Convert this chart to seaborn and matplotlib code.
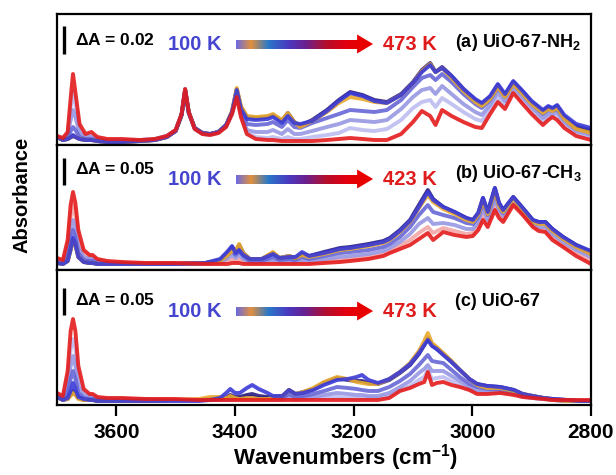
import numpy as np
import pandas as pd
import matplotlib
matplotlib.use("Agg")
import matplotlib.pyplot as plt
import seaborn as sns
from matplotlib.colors import LinearSegmentedColormap
from matplotlib.patches import Polygon

sns.set_theme(style="white")
plt.rcParams["font.family"] = ["Liberation Sans", "DejaVu Sans"]
plt.rcParams["font.weight"] = "bold"
plt.rcParams["text.color"] = "black"
plt.rcParams["xtick.color"] = "black"
plt.rcParams["mathtext.fontset"] = "custom"
plt.rcParams["mathtext.rm"] = "Liberation Sans:bold"
plt.rcParams["mathtext.bf"] = "Liberation Sans:bold"

# ---- data (absorbance, arbitrary units, baseline = 0) ----
wn_a = [3700, 3690, 3682, 3676, 3673, 3669, 3662, 3652, 3642, 3632,
        3615, 3590, 3560, 3535, 3515, 3500, 3490, 3484, 3478, 3468,
        3455, 3442, 3428, 3415, 3405, 3397, 3390, 3380, 3365, 3345,
        3336, 3321, 3311, 3300, 3290, 3270, 3245, 3225, 3206, 3185,
        3165, 3144, 3120, 3100, 3085, 3071, 3062, 3051, 3035, 3015,
        2995, 2984, 2970, 2957, 2945, 2931, 2915, 2900, 2881, 2872,
        2865, 2857, 2845, 2825, 2800]
a_100 = [5, 2, 3, 5, 7, 5, 3, 2, 2, 1,
         0, 0, 1, 2, 5, 11, 27, 51, 29, 14,
         9, 8, 10, 17, 30, 52, 33, 23, 22, 23,
         25, 19, 26, 19, 18, 21, 31, 41, 49, 46,
         41, 39, 47, 59, 70, 77, 70, 74, 66, 53,
         43, 39, 46, 58, 48, 61, 51, 41, 32, 36,
         34, 37, 27, 18, 14]
a_150 = [5, 2, 3, 5, 6, 5, 3, 2, 2, 1,
         0, 0, 1, 2, 5, 11, 27, 52, 30, 14,
         9, 8, 10, 17, 31, 54, 36, 26, 25, 26,
         28, 22, 29, 20, 15, 21, 30, 39, 45, 43,
         40, 39, 47, 59, 71, 78, 70, 74, 64, 51,
         40, 36, 43, 55, 45, 58, 48, 38, 29, 33,
         31, 34, 23, 13, 9]
a_200 = [5, 2, 3, 5, 6, 5, 3, 2, 2, 1,
         0, 0, 1, 2, 5, 11, 27, 52, 30, 14,
         9, 8, 10, 17, 30, 53, 35, 25, 24, 25,
         27, 21, 29, 20, 16, 22, 32, 42, 50, 47,
         42, 40, 48, 60, 72, 79, 70, 75, 66, 53,
         42, 38, 45, 57, 47, 60, 50, 40, 31, 35,
         33, 36, 25, 16, 12]
a_250 = [5, 2, 4, 12, 15, 12, 5, 3, 3, 2,
         1, 1, 1, 2, 5, 11, 27, 52, 30, 14,
         9, 8, 10, 16, 29, 50, 32, 18, 17, 18,
         20, 15, 22, 15, 14, 19, 24, 28, 32, 31,
         30, 32, 42, 55, 64, 67, 62, 68, 60, 48,
         38, 34, 42, 54, 45, 58, 48, 38, 28, 32,
         31, 33, 23, 13, 10]
a_300 = [6, 3, 6, 25, 32, 25, 9, 5, 5, 3,
         2, 2, 2, 3, 6, 12, 28, 53, 30, 14,
         9, 8, 10, 16, 29, 48, 30, 12, 10, 10,
         12, 8, 13, 8, 8, 11, 15, 18, 22, 21,
         20, 22, 33, 45, 52, 54, 48, 56, 48, 38,
         30, 27, 37, 50, 41, 55, 45, 35, 24, 28,
         28, 30, 20, 11, 7]
a_373 = [6, 4, 8, 38, 50, 38, 13, 6, 7, 4,
         2, 2, 2, 3, 6, 12, 28, 53, 30, 13,
         8, 7, 9, 15, 28, 46, 27, 9, 5, 4,
         5, 3, 5, 3, 3, 5, 7, 9, 14, 12,
         11, 13, 22, 34, 40, 42, 35, 44, 38, 30,
         23, 21, 33, 45, 37, 52, 41, 31, 20, 25,
         26, 26, 17, 9, 5]
a_473 = [6, 4, 10, 50, 68, 50, 18, 8, 10, 5,
         3, 3, 2, 3, 6, 12, 28, 53, 30, 13,
         8, 7, 9, 15, 28, 45, 25, 8, 3, 2,
         2, 1, 1, 1, 1, 1, 2, 3, 4, 3,
         2, 2, 8, 20, 31, 26, 17, 32, 26, 20,
         15, 14, 28, 40, 33, 49, 38, 28, 17, 22,
         25, 22, 14, 6, 2]

wn_b = [3700, 3690, 3682, 3677, 3673, 3669, 3664, 3655, 3645, 3640,
        3632, 3615, 3590, 3550, 3500, 3450, 3425, 3412, 3405, 3399,
        3393, 3386, 3375, 3355, 3336, 3325, 3309, 3298, 3287, 3275,
        3250, 3223, 3206, 3175, 3150, 3139, 3122, 3105, 3090, 3075,
        3066, 3049, 3030, 3010, 2999, 2990, 2982, 2974, 2962, 2955,
        2948, 2931, 2915, 2898, 2888, 2877, 2865, 2847, 2825, 2800]
b_100 = [2, 1, 4, 16, 27, 21, 8, 3, 2, 2,
         1, 1, 1, 1, 1, 2, 6, 14, 19, 12,
         15, 10, 6, 6, 11, 7, 8, 8, 13, 9,
         12, 16, 17, 20, 23, 26, 34, 44, 58, 73,
         65, 58, 53, 47, 45, 52, 67, 53, 77, 62,
         55, 68, 57, 45, 43, 43, 36, 28, 20, 14]
b_150 = [2, 1, 4, 15, 25, 20, 8, 3, 2, 2,
         1, 1, 1, 1, 1, 2, 4, 10, 14, 14,
         21, 12, 6, 6, 13, 7, 9, 7, 10, 8,
         11, 15, 16, 19, 22, 25, 33, 43, 57, 70,
         63, 56, 51, 45, 43, 50, 64, 51, 74, 59,
         53, 66, 55, 43, 41, 41, 34, 26, 18, 11]
b_200 = [2, 1, 4, 15, 25, 20, 8, 3, 2, 2,
         1, 1, 1, 1, 1, 2, 5, 12, 18, 13,
         20, 12, 6, 6, 12, 7, 9, 7, 11, 9,
         13, 17, 18, 21, 24, 27, 35, 45, 60, 75,
         66, 58, 53, 47, 45, 52, 67, 53, 77, 62,
         55, 68, 57, 45, 43, 43, 36, 28, 20, 13]
b_250 = [3, 2, 8, 25, 35, 28, 12, 5, 4, 4,
         2, 2, 1, 1, 1, 2, 4, 10, 14, 10,
         14, 9, 4, 4, 8, 5, 6, 5, 8, 6,
         9, 12, 13, 15, 18, 21, 28, 38, 50, 60,
         53, 50, 47, 42, 41, 48, 62, 50, 72, 59,
         52, 66, 55, 43, 41, 41, 34, 26, 18, 11]
b_300 = [4, 3, 12, 35, 45, 37, 18, 8, 6, 6,
         3, 2, 2, 1, 1, 1, 3, 7, 10, 7,
         10, 6, 3, 3, 5, 3, 4, 3, 5, 4,
         6, 8, 9, 11, 14, 17, 23, 31, 41, 47,
         41, 42, 40, 36, 36, 43, 56, 45, 66, 55,
         49, 64, 53, 41, 38, 38, 31, 23, 15, 8]
b_373 = [6, 4, 18, 48, 60, 50, 25, 11, 8, 8,
         5, 3, 2, 2, 2, 1, 2, 4, 6, 4,
         6, 3, 2, 2, 3, 2, 2, 2, 3, 2,
         4, 5, 6, 8, 11, 14, 19, 25, 32, 38,
         32, 37, 34, 31, 32, 39, 50, 42, 60, 51,
         46, 62, 52, 40, 36, 36, 28, 20, 12, 4]
b_423 = [7, 5, 25, 60, 73, 62, 35, 15, 10, 10,
         6, 4, 3, 2, 2, 1, 1, 1, 2, 2,
         2, 1, 1, 1, 1, 1, 1, 1, 1, 1,
         2, 3, 4, 6, 9, 12, 16, 20, 26, 32,
         25, 33, 30, 28, 29, 35, 45, 38, 55, 47,
         43, 60, 50, 38, 34, 33, 25, 18, 9, 1]

wn_c = [3700, 3690, 3682, 3677, 3673, 3669, 3664, 3655, 3645, 3640,
        3632, 3615, 3590, 3550, 3500, 3460, 3442, 3425, 3413, 3408,
        3400, 3392, 3380, 3371, 3360, 3345, 3336, 3320, 3309, 3298,
        3285, 3268, 3250, 3228, 3210, 3195, 3186, 3175, 3159, 3140,
        3122, 3105, 3090, 3081, 3075, 3068, 3060, 3049, 3035, 3021,
        3005, 2992, 2975, 2953, 2930, 2915, 2898, 2880, 2864, 2840,
        2820, 2800]
c_100 = [4, 1, 3, 10, 18, 12, 4, 2, 1, 1,
         0, 0, 0, 0, 0, 0, 1, 3, 9, 12,
         8, 8, 13, 16, 12, 8, 5, 5, 11, 7,
         8, 11, 16, 21, 22, 24, 26, 21, 18, 22,
         29, 37, 48, 56, 61, 55, 52, 46, 39, 31,
         22, 17, 15, 14, 11, 7, 5, 3, 2, 1,
         0, 0]
c_150 = [4, 1, 2, 5, 8, 6, 2, 1, 1, 1,
         0, 0, 0, 0, 1, 2, 4, 4, 3, 5,
         3, 2, 3, 3, 2, 2, 3, 5, 11, 7,
         9, 13, 19, 24, 22, 19, 18, 17, 17, 22,
         29, 38, 50, 60, 68, 58, 54, 48, 40, 31,
         22, 16, 13, 13, 10, 7, 5, 3, 1, 0,
         0, 0]
c_200 = [4, 1, 2, 6, 10, 7, 3, 1, 1, 1,
         0, 0, 0, 0, 1, 1, 2, 3, 4, 6,
         4, 4, 6, 7, 5, 4, 4, 5, 11, 7,
         9, 12, 18, 23, 21, 20, 20, 18, 17, 21,
         28, 36, 47, 56, 63, 56, 52, 47, 39, 31,
         22, 17, 15, 14, 11, 7, 5, 3, 2, 1,
         0, 0]
c_250 = [5, 2, 8, 22, 30, 22, 8, 3, 2, 2,
         1, 1, 1, 1, 1, 1, 1, 2, 3, 4,
         3, 3, 4, 4, 3, 3, 3, 3, 7, 4,
         5, 7, 10, 14, 13, 12, 11, 10, 10, 14,
         20, 27, 36, 42, 46, 40, 39, 38, 31, 24,
         17, 14, 12, 12, 9, 6, 4, 3, 1, 0,
         0, 0]
c_300 = [6, 3, 14, 35, 45, 35, 15, 6, 4, 4,
         2, 2, 2, 1, 1, 1, 1, 1, 2, 2,
         2, 2, 2, 2, 2, 2, 2, 2, 4, 2,
         3, 4, 6, 8, 7, 6, 6, 5, 5, 8,
         14, 20, 28, 32, 36, 30, 30, 30, 25, 20,
         14, 11, 10, 10, 8, 5, 3, 2, 1, 0,
         0, 0]
c_373 = [7, 4, 22, 52, 62, 52, 24, 9, 6, 6,
         3, 2, 2, 2, 1, 1, 1, 1, 1, 1,
         1, 1, 1, 1, 1, 1, 1, 1, 2, 1,
         2, 2, 3, 4, 3, 3, 3, 3, 3, 5,
         11, 15, 21, 24, 31, 22, 23, 24, 20, 16,
         12, 9, 8, 9, 7, 4, 3, 2, 1, 0,
         0, 0]
c_473 = [8, 5, 30, 70, 82, 70, 35, 12, 7, 7,
         4, 3, 3, 2, 2, 1, 1, 1, 1, 1,
         1, 1, 1, 1, 1, 1, 1, 1, 1, 1,
         1, 1, 1, 1, 1, 1, 1, 1, 1, 3,
         10, 13, 17, 19, 29, 16, 18, 19, 16, 14,
         11, 7, 7, 8, 6, 4, 3, 2, 1, 1,
         1, 1]

temps_ab = [100, 150, 200, 250, 300, 373]
labels = ["(a) UiO-67-NH$_2$", "(b) UiO-67-CH$_3$", "(c) UiO-67"]
t_high = [473, 423, 473]
scale_dA = ["0.02", "0.05", "0.05"]
scale_len = [28, 27, 27]       # length of the ΔA bar in data units
scale_y0 = [88, 80, 86]

colors = {100: "#3b3bd8", 150: "#e9a92c", 200: "#2b1d7e", 250: "#6666d6",
          300: "#9797e3", 373: "#bdbdf1", "hi": "#e41b1b"}
pink_b = "#f2a7a7"

panels = [
    (wn_a, [a_100, a_150, a_200, a_250, a_300, a_373, a_473]),
    (wn_b, [b_100, b_150, b_200, b_250, b_300, b_373, b_423]),
    (wn_c, [c_100, c_150, c_200, c_250, c_300, c_373, c_473]),
]
ylims = [(-3, 128), (-5, 120), (-4, 131)]

grad = LinearSegmentedColormap.from_list("tgrad", [
    (0.0, "#6a6ae0"), (0.12, "#e2903e"), (0.26, "#2a78c8"), (0.42, "#4a3ac0"),
    (0.56, "#6a2090"), (0.72, "#b01030"), (0.88, "#e00010"), (1.0, "#e80000")])

fig, axes = plt.subplots(3, 1, figsize=(6.16, 4.75), dpi=100, sharex=True,
                         gridspec_kw=dict(hspace=0, height_ratios=[131, 125, 135]))
fig.subplots_adjust(left=0.0925, right=0.9594, top=0.9705, bottom=0.1474)

for i, (ax, (wn, series)) in enumerate(zip(axes, panels)):
    temps = temps_ab + [t_high[i]]
    rows = []
    for t, vals in zip(temps, series):
        assert len(vals) == len(wn)
        rows.append(pd.DataFrame({"wn": wn, "A": vals, "T": t}))
    df = pd.concat(rows, ignore_index=True)
    pal = {t: colors[t] for t in temps_ab}
    pal[t_high[i]] = colors["hi"]
    if i == 1:
        pal[373] = pink_b
    order = [373, 300, 250, 200, 150, 100, t_high[i]]
    sns.lineplot(data=df, x="wn", y="A", hue="T", hue_order=order, palette=pal,
                 estimator=None, lw=2.8, alpha=0.9, legend=False, ax=ax)

    ax.set_ylim(*ylims[i])
    ax.set_yticks([])
    ax.set_ylabel("")
    ax.set_xlabel("")
    for s in ax.spines.values():
        s.set_color("black")
        s.set_linewidth(1.6)

    h_px = [131, 125, 135][i]
    # centre heights (axes fraction) of the header row
    cy_dA = [0.80, 0.808, 0.778][i]
    cy_T = [0.771, 0.728, 0.696][i]
    cy_lab = [0.779, 0.776, 0.770][i]

    ax.plot([0.013, 0.013], [scale_y0[i], scale_y0[i] + scale_len[i]], color="black",
            lw=2.4, transform=ax.get_yaxis_transform(), solid_capstyle="butt")
    ax.text(0.034, cy_dA, "$\\Delta$A = " + scale_dA[i], transform=ax.transAxes,
            fontsize=12.5, fontweight="bold", va="center", ha="left")
    ax.text(0.208, cy_T, "100 K", transform=ax.transAxes, fontsize=14.5,
            fontweight="bold", color="#4545d0", va="center", ha="left")
    ax.text(0.610, cy_T, f"{t_high[i]} K", transform=ax.transAxes, fontsize=14.5,
            fontweight="bold", color="#e01b1b", va="center", ha="left")
    ax.text(0.745, cy_lab, labels[i], transform=ax.transAxes, fontsize=13,
            fontweight="bold", va="center", ha="left")

    # gradient arrow
    bh = 9 / h_px
    ins = ax.inset_axes([0.335, cy_T - bh / 2, 0.232, bh])
    ins.imshow(np.linspace(0, 1, 256)[None, :], cmap=grad, aspect="auto")
    ins.axis("off")
    hh = 19 / h_px
    ax.add_patch(Polygon([[0.562, cy_T - hh / 2], [0.592, cy_T], [0.562, cy_T + hh / 2]],
                         closed=True, transform=ax.transAxes, color="#e80000", lw=0))

axes[-1].set_xlim(3700, 2800)
axes[-1].set_xticks([3600, 3400, 3200, 3000, 2800])
for ax in axes[:-1]:
    ax.tick_params(axis="x", bottom=False, labelbottom=False)
axes[-1].tick_params(axis="x", bottom=True, direction="out", length=8, width=1.6,
                     labelsize=15, pad=5, color="black", labelcolor="black")
for lab in axes[-1].get_xticklabels():
    lab.set_fontweight("bold")

fig.text(0.56, 0.036, "Wavenumbers (cm$^{\\mathrm{-1}}$)", ha="center", va="center",
         fontsize=16, fontweight="bold")
fig.text(0.036, 0.589, "Absorbance", rotation=90, ha="center", va="center",
         fontsize=14.5, fontweight="bold")

fig.savefig("out.png", dpi=100, facecolor="white")
